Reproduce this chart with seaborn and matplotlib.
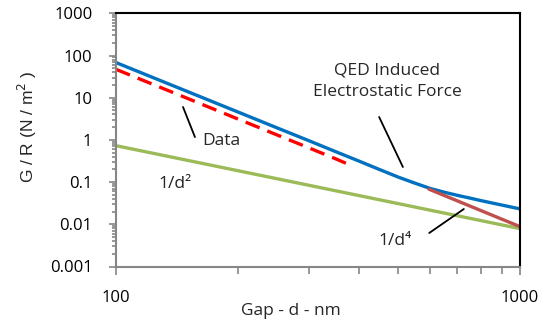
import numpy as np
import pandas as pd
import matplotlib
matplotlib.use("Agg")
import matplotlib.pyplot as plt
import seaborn as sns

# ---- data ----
qed_gap = [100, 150, 200, 250, 300, 350, 400, 450, 500, 550, 600, 650, 700, 750, 800, 850, 900, 950, 1000]
qed_force = [68, 14.1, 4.62, 1.94, 0.96, 0.525, 0.313, 0.197, 0.131, 0.094, 0.0705, 0.0575, 0.0485, 0.042, 0.0365, 0.0322, 0.0287, 0.0257, 0.0232]

data_gap = [100, 150, 200, 250, 300, 350, 383]
data_force = [47, 9.7, 3.15, 1.32, 0.65, 0.355, 0.245]

d2_gap = [100, 1000]
d2_force = [0.73, 0.0079]

d4_gap = [595, 1000]
d4_force = [0.068, 0.0088]

x_ticks = [100, 1000]
y_ticks = [0.001, 0.01, 0.1, 1, 10, 100, 1000]
y_ticklabels = ["0.001", "0.01", "0.1", "1", "10", "100", "1000"]

sns.set_style("white")
plt.rcParams['font.family'] = ['Open Sans', 'DejaVu Sans']

W, H = 552, 326
fig = plt.figure(figsize=(W / 100, H / 100), dpi=100)
L, R, T, B = 116, 520, 13.3, 266.5
ax = fig.add_axes([L / W, 1 - B / H, (R - L) / W, (B - T) / H])

df_qed = pd.DataFrame({"gap": qed_gap, "force": qed_force})
df_data = pd.DataFrame({"gap": data_gap, "force": data_force})
df_d2 = pd.DataFrame({"gap": d2_gap, "force": d2_force})
df_d4 = pd.DataFrame({"gap": d4_gap, "force": d4_force})

sns.lineplot(data=df_d2, x="gap", y="force", ax=ax, color="#9BBB59", lw=2.4, estimator=None, sort=False)
sns.lineplot(data=df_qed, x="gap", y="force", ax=ax, color="#0070C0", lw=2.4, estimator=None, sort=False)
sns.lineplot(data=df_d4, x="gap", y="force", ax=ax, color="#C0504D", lw=2.4, estimator=None, sort=False)
sns.lineplot(data=df_data, x="gap", y="force", ax=ax, color="#FF0000", lw=2.4, estimator=None, sort=False)
ax.lines[-1].set_dashes([4.5, 2.5])
for l in ax.lines:
    l.set_solid_joinstyle("round")

ax.set_xscale("log")
ax.set_yscale("log")
ax.set_xlim(100, 1000)
ax.set_ylim(0.001, 1000)

ax.set_xticks(x_ticks)
ax.set_xticklabels([str(t) for t in x_ticks])
ax.set_yticks(y_ticks)
ax.set_yticklabels(y_ticklabels)
ax.xaxis.set_minor_locator(matplotlib.ticker.LogLocator(base=10, subs=np.arange(2, 10)))
ax.yaxis.set_minor_locator(matplotlib.ticker.LogLocator(base=10, subs=np.arange(2, 10), numticks=20))
ax.xaxis.set_minor_formatter(matplotlib.ticker.NullFormatter())
ax.yaxis.set_minor_formatter(matplotlib.ticker.NullFormatter())

grey = "#868686"
ax.tick_params(axis="both", which="both", direction="out", color=grey, width=1.2, labelsize=12, labelcolor="black")
ax.tick_params(axis="y", which="major", length=5, pad=12)
ax.tick_params(axis="y", which="minor", length=3)
ax.tick_params(axis="x", which="major", length=6, pad=11)
ax.tick_params(axis="x", which="minor", length=5)
ax.xaxis.set_ticks_position("bottom")
ax.yaxis.set_ticks_position("left")

for s in ["left", "bottom"]:
    ax.spines[s].set_color(grey)
    ax.spines[s].set_linewidth(1.5)
for s in ["top", "right"]:
    ax.spines[s].set_color("black")
    ax.spines[s].set_linewidth(1.5)
    ax.spines[s].set_visible(True)

ax.set_xlabel("")
ax.set_ylabel("")
fig.text(291 / W, 1 - 311 / H, "Gap - d - nm", ha="center", va="center", fontsize=12.5)
fig.text(27 / W, 1 - 127 / H, "G / R (N / m$^{2}$ )", rotation=90, ha="center", va="center",
         fontsize=12.5, family=["Liberation Sans", "DejaVu Sans"])

# annotations
ax.text(469, 24.9, "QED Induced\nElectrostatic Force", ha="center", va="center", fontsize=12.5, linespacing=1.45)
ax.plot([448, 513], [3.49, 0.228], color="black", lw=1.3)
ax.text(182, 0.94, "Data", ha="center", va="center", fontsize=12.5)
ax.plot([146.5, 156.8], [6.03, 1.17], color="black", lw=1.3)
ax.text(140, 0.090, "1/d²", ha="center", va="center", fontsize=12.5)
ax.text(490, 0.00402, "1/d⁴", ha="center", va="center", fontsize=12.5)
ax.plot([596, 726], [0.00622, 0.023], color="black", lw=1.3)

fig.savefig("out.png", dpi=100)
